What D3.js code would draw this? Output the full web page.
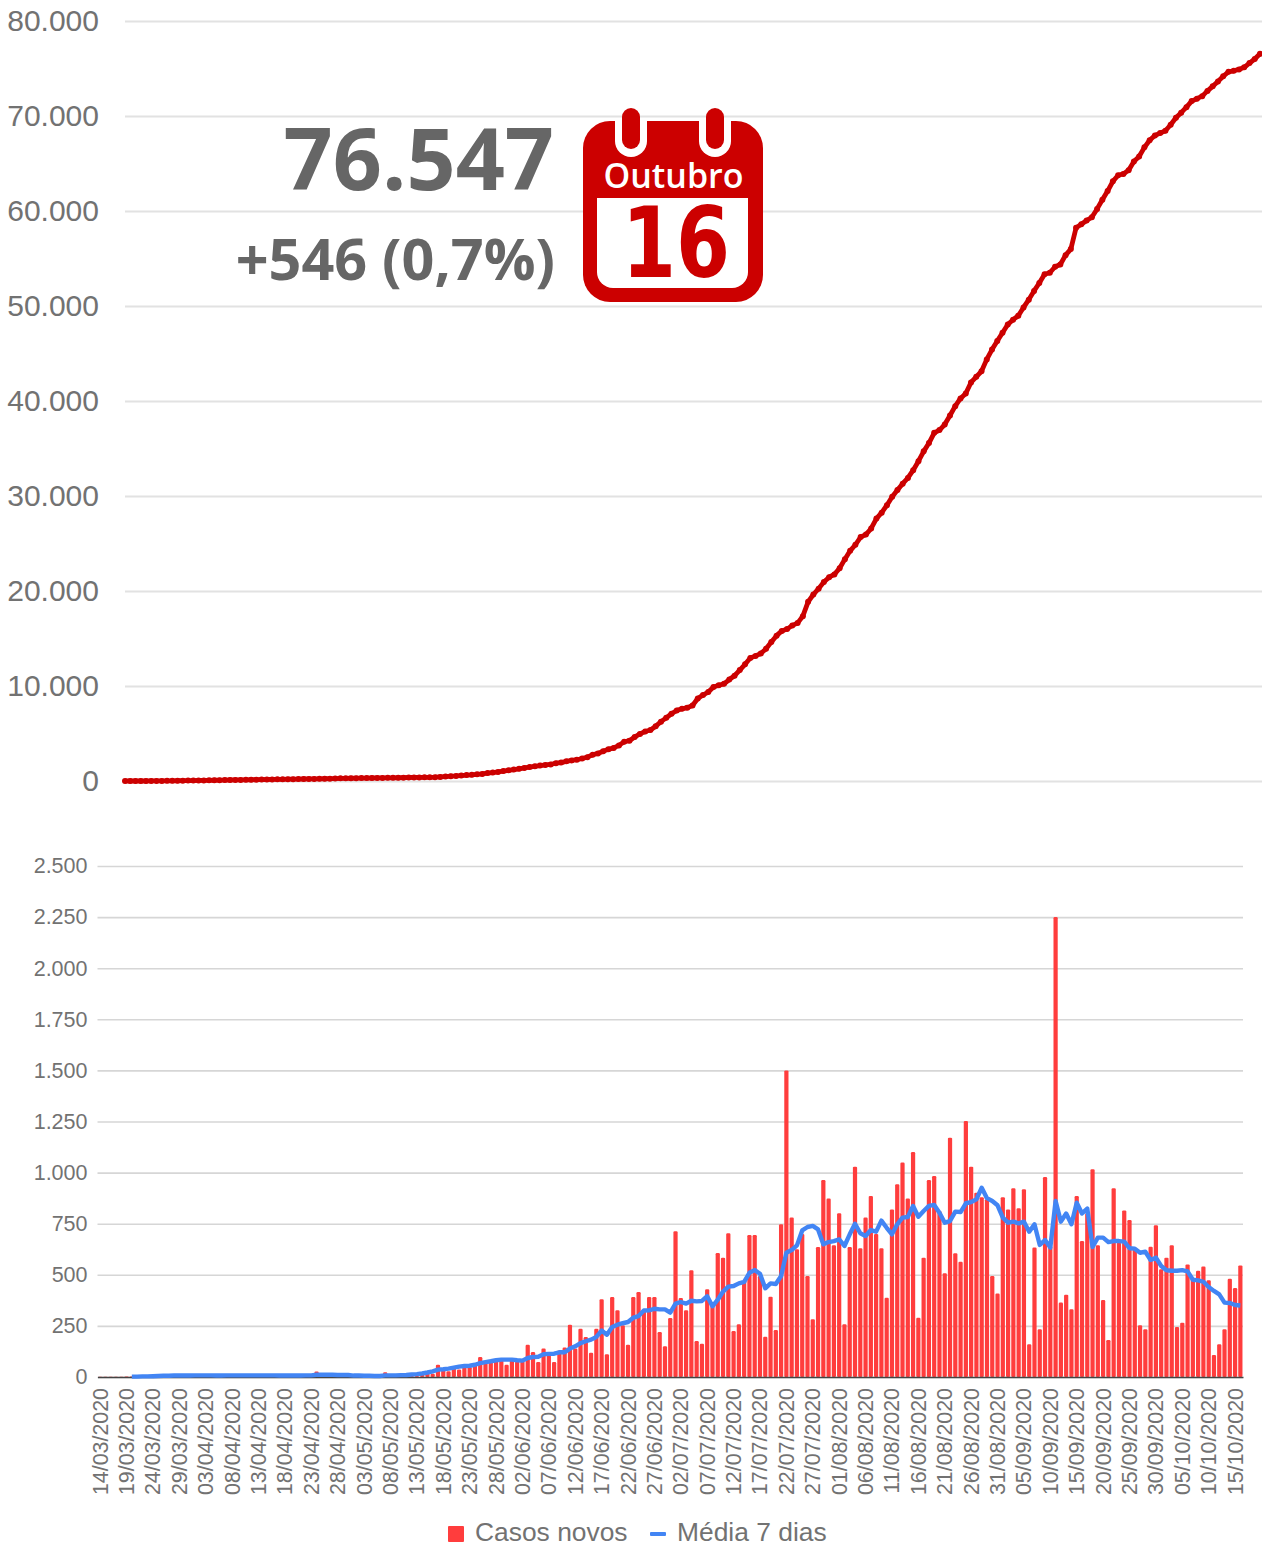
<!DOCTYPE html>
<html lang="pt">
<head>
    <meta charset="UTF-8">
    <title>Casos acumulados e novos</title>
    <script src="https://d3js.org/d3.v7.min.js"></script>
    <style>
        body { margin: 0; background: #fff; }
        svg { display: block; }
        text { font-family: "Liberation Sans", Arial, sans-serif; }
        .big { font-family: "Open Sans", sans-serif; font-weight: 700; }
    </style>
</head>
<body>
    <svg id="chart" width="1262" height="1547"></svg>
    <script>
        // one entry per day, 14/03/2020 to 16/10/2020
        const dates = d3.timeDay.range(new Date(2020, 2, 14), new Date(2020, 9, 17));

        const totalTicks = [0, 10000, 20000, 30000, 40000, 50000, 60000, 70000, 80000];
        const newTicks = [0, 250, 500, 750, 1000, 1250, 1500, 1750, 2000, 2250, 2500];

        const totalCases = [
            0, 0, 1, 1, 2, 4, 7, 12, 16, 22,
            28, 35, 43, 50, 57, 65, 72, 80, 88, 95,
            103, 110, 117, 125, 134, 142, 150, 158, 165, 173,
            180, 187, 195, 202, 209, 216, 223, 230, 237, 244,
            252, 279, 285, 291, 297, 303, 309, 315, 320, 325,
            330, 335, 340, 345, 368, 373, 378, 384, 392, 400,
            430, 470, 510, 530, 570, 620, 650, 700, 750, 830,
            890, 960, 1050, 1120, 1200, 1280, 1370, 1470, 1550, 1620,
            1690, 1750, 1870, 1940, 2070, 2170, 2240, 2370, 2510, 2760,
            2900, 3130, 3330, 3480, 3750, 4130, 4240, 4630, 4960, 5210,
            5370, 5760, 6250, 6650, 7080, 7430, 7600, 7720, 7950, 8680,
            9050, 9360, 9900, 10080, 10230, 10680, 11080, 11680, 12280, 12950,
            13170, 13420, 13920, 14620, 15300, 15800, 15990, 16380, 16620, 17350,
            18860, 19630, 20250, 20950, 21450, 21750, 22390, 23350, 24230, 24870,
            25680, 25940, 26580, 27620, 28250, 29030, 29920, 30620, 31300, 31900,
            32720, 33660, 34700, 35570, 36650, 36940, 37520, 38480, 39460, 40270,
            40780, 41950, 42550, 43130, 44380, 45410, 46310, 47190, 48060, 48560,
            48970, 49850, 50670, 51590, 52420, 53340, 53500, 54130, 54370, 55350,
            55990, 58240, 58600, 59000, 59340, 60220, 61180, 62100, 63120, 63760,
            63900, 64300, 65220, 65740, 66700, 67450, 67950, 68200, 68450, 69080,
            69820, 70350, 70930, 71570, 71820, 72090, 72640, 73120, 73640, 74180,
            74650, 74760, 74900, 75130, 75570, 76001, 76547
        ];

        const newCases = [
            1, 1, 1, 1, 1, 2, 3, 4, 4, 6,
            6, 7, 8, 7, 7, 8, 7, 8, 8, 7,
            8, 7, 7, 8, 9, 8, 8, 8, 7, 8,
            7, 7, 8, 7, 7, 7, 7, 7, 8, 8,
            8, 27, 6, 6, 6, 6, 6, 6, 6, 5,
            5, 5, 5, 5, 23, 5, 5, 6, 8, 8,
            12, 15, 18, 16, 60, 37, 28, 49, 37, 60,
            49, 68, 98, 78, 85, 77, 93, 60, 82, 77,
            77, 158, 122, 73, 139, 106, 73, 130, 144, 256,
            139, 236, 196, 119, 236, 380, 111, 391, 326, 253,
            158, 391, 416, 326, 391, 391, 220, 150, 289, 713,
            387, 326, 522, 176, 163, 429, 367, 607, 584, 703,
            225, 258, 470, 695, 695, 494, 197, 393, 230, 747,
            1500, 780, 625, 700, 494, 282, 636, 964, 873, 644,
            801, 258, 636, 1029, 630, 780, 886, 700, 630, 388,
            820, 943, 1049, 873, 1101, 290, 584, 964, 983, 812,
            507, 1171, 605, 564, 1253, 1029, 902, 880, 870, 494,
            408, 880, 820, 923, 825, 918, 160, 633, 233, 978,
            640, 2250, 364, 403, 331, 885, 665, 800, 1016, 644,
            377, 181, 923, 657, 815, 768, 630, 253, 233, 637,
            742, 527, 584, 644, 245, 266, 551, 478, 520, 540,
            473, 108, 160, 233, 481, 435, 546
        ];

        const mean7 = [
            null, null, null, null, null, null, 2, 2, 3, 3,
            4, 5, 6, 6, 7, 7, 7, 7, 8, 8,
            8, 8, 7, 7, 8, 8, 8, 8, 8, 8,
            8, 8, 8, 8, 7, 7, 7, 7, 7, 8,
            8, 11, 11, 11, 11, 10, 10, 10, 7, 7,
            6, 6, 5, 5, 8, 8, 8, 9, 10, 12,
            14, 17, 22, 28, 36, 38, 41, 46, 51, 54,
            55, 60, 68, 73, 77, 82, 85, 85, 85, 82,
            80, 93, 98, 99, 111, 113, 114, 121, 121, 139,
            150, 166, 175, 183, 196, 227, 207, 245, 256, 263,
            269, 290, 298, 325, 326, 334, 331, 331, 315, 359,
            367, 359, 373, 370, 372, 395, 346, 378, 418, 442,
            445, 458, 465, 510, 523, 505, 434, 458, 455, 494,
            608, 621, 644, 717, 734, 739, 722, 649, 660, 665,
            673, 641, 698, 750, 703, 690, 719, 711, 765, 730,
            698, 747, 780, 783, 837, 784, 812, 837, 842, 804,
            755, 763, 809, 807, 850, 856, 869, 926, 875, 861,
            840, 780, 755, 760, 752, 760, 711, 747, 646, 670,
            633, 861, 760, 800, 747, 853, 800, 824, 636, 682,
            682, 660, 665, 665, 662, 630, 628, 608, 613, 572,
            584, 543, 522, 520, 520, 523, 517, 476, 473, 466,
            440, 421, 404, 364, 362, 352, 350
        ];

        const legendLabels = ["Casos novos", "Média 7 dias"];

        const svg = d3.select("#chart");
        const gray = "#727272";
        const darkRed = "#cc0000";
        const ptBr = d3.formatLocale({decimal: ",", thousands: ".", grouping: [3], currency: ["", ""]});
        const fmt = ptBr.format(",");
        const fmtDate = d3.timeFormat("%d/%m/%Y");

        // top chart: accumulated cases
        const xTop = d3.scalePoint().domain(d3.range(dates.length)).range([125, 1260]);
        const yTop = d3.scaleLinear().domain([0, 80000]).range([781, 21]);

        const topAxis = svg.append("g")
            .attr("transform", "translate(125,0)")
            .call(d3.axisLeft(yTop).tickValues(totalTicks).tickFormat(fmt).tickSize(-1137).tickPadding(26));
        topAxis.select(".domain").remove();
        topAxis.selectAll(".tick line").attr("stroke", "#e2e2e2").attr("stroke-width", 1.8);
        topAxis.selectAll(".tick text").attr("fill", gray).style("font-size", "30px");

        svg.append("path")
            .datum(totalCases)
            .attr("fill", "none")
            .attr("stroke", darkRed)
            .attr("stroke-width", 4.8)
            .attr("stroke-linejoin", "round")
            .attr("d", d3.line().x((d, i) => xTop(i)).y(d => yTop(d)));
        svg.append("g").selectAll("circle")
            .data(totalCases)
            .enter().append("circle")
                .attr("cx", (d, i) => xTop(i))
                .attr("cy", d => yTop(d))
                .attr("r", 3)
                .attr("fill", darkRed);

        // headline numbers
        svg.append("text").attr("class", "big")
            .attr("x", 554).attr("y", 190)
            .attr("text-anchor", "end")
            .attr("fill", "#666").style("font-size", "86px")
            .text("76.547");
        svg.append("text").attr("class", "big")
            .attr("x", 555).attr("y", 280)
            .attr("text-anchor", "end")
            .attr("fill", "#666").style("font-size", "57.5px")
            .text("+546 (0,7%)");

        // calendar icon
        const cal = svg.append("g");
        cal.append("rect").attr("x", 583).attr("y", 121).attr("width", 180).attr("height", 181).attr("rx", 27).attr("fill", darkRed);
        cal.append("path").attr("fill", "#fff")
            .attr("d", "M597,198H748V272a16,16 0 0 1 -16,16H613a16,16 0 0 1 -16,-16Z");
        [631, 715].forEach(cx => {
            cal.append("path").attr("fill", "#fff")
                .attr("d", `M${cx - 16},121H${cx + 16}V141a16,16 0 0 1 -32,0Z`);
            cal.append("rect").attr("x", cx - 9).attr("y", 108).attr("width", 18).attr("height", 41).attr("rx", 9).attr("fill", darkRed);
        });
        cal.append("text").attr("class", "big")
            .attr("x", 673.5).attr("y", 188)
            .attr("text-anchor", "middle")
            .attr("fill", "#fff").style("font-size", "34px").style("font-weight", 600)
            .text("Outubro");
        cal.append("text")
            .attr("x", 622).attr("y", 277)
            .attr("textLength", 108)
            .attr("lengthAdjust", "spacingAndGlyphs")
            .attr("fill", darkRed)
            .style("font-family", "'DejaVu Sans', sans-serif").style("font-weight", 700).style("font-size", "98px")
            .text("16");

        // bottom chart: new cases
        const xNew = d3.scaleBand().domain(d3.range(dates.length)).range([97.5, 1243]).paddingInner(0.2).paddingOuter(0.1);
        const yNew = d3.scaleLinear().domain([0, 2500]).range([1377, 866]);

        const newAxis = svg.append("g")
            .attr("transform", "translate(97.5,0)")
            .call(d3.axisLeft(yNew).tickValues(newTicks).tickFormat(fmt).tickSize(-1145.5).tickPadding(10));
        newAxis.select(".domain").remove();
        newAxis.selectAll(".tick line").attr("stroke", "#d6d6d6").attr("stroke-width", 1.6);
        newAxis.selectAll(".tick text").attr("fill", gray).style("font-size", "21.5px");

        svg.append("g").selectAll("rect")
            .data(newCases)
            .enter().append("rect")
                .attr("x", (d, i) => xNew(i))
                .attr("y", d => yNew(d))
                .attr("width", xNew.bandwidth())
                .attr("height", d => yNew(0) - yNew(d))
                .attr("rx", 1.2)
                .attr("fill", "#ff3d3d");

        const xAxis = svg.append("g")
            .attr("transform", "translate(0,1377)")
            .call(d3.axisBottom(xNew)
                .tickValues(d3.range(0, dates.length, 5))
                .tickFormat(i => fmtDate(dates[i]))
                .tickSize(0));
        xAxis.select(".domain").attr("stroke", "#444").attr("stroke-width", 1.6);
        xAxis.selectAll(".tick text")
            .attr("fill", gray)
            .style("font-size", "21.4px")
            .attr("text-anchor", "end")
            .attr("transform", "rotate(-90)")
            .attr("x", -11)
            .attr("y", 0)
            .attr("dy", "0.35em");

        svg.append("path")
            .datum(mean7)
            .attr("fill", "none")
            .attr("stroke", "#4285f4")
            .attr("stroke-width", 4.4)
            .attr("stroke-linejoin", "round")
            .attr("d", d3.line()
                .defined(d => d !== null)
                .x((d, i) => xNew(i) + xNew.bandwidth() / 2)
                .y(d => yNew(d)));

        // legend
        svg.append("rect").attr("x", 448).attr("y", 1526).attr("width", 16).attr("height", 16).attr("rx", 1).attr("fill", "#ff3d3d");
        svg.append("rect").attr("x", 650).attr("y", 1532).attr("width", 16).attr("height", 4).attr("rx", 1).attr("fill", "#4285f4");
        svg.selectAll(".legend")
            .data(legendLabels)
            .enter().append("text")
                .attr("class", "legend")
                .attr("x", (d, i) => [475, 677][i])
                .attr("y", 1541)
                .attr("fill", gray)
                .style("font-size", "26.4px")
                .text(d => d);
    </script>
</body>
</html>
